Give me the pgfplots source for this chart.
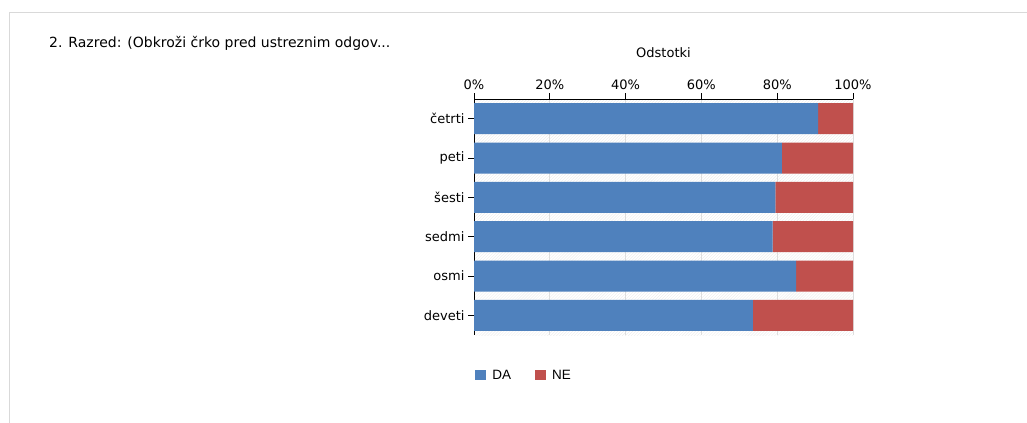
\documentclass[border=0pt]{standalone}
\usepackage{fontspec}
\setmainfont{DejaVu Sans}
\newfontfamily\libsans{Liberation Sans}
\usepackage{pgfplots}
\pgfplotsset{compat=1.18}
\usetikzlibrary{patterns}
\definecolor{da}{HTML}{4F81BD}
\definecolor{ne}{HTML}{C0504D}
\definecolor{frm}{HTML}{D9D9D9}
\begin{document}
\begin{tikzpicture}
\path[use as bounding box] (0bp,0bp) rectangle (1027bp,-423bp);
\draw[frm, line width=1.5bp] (9.5bp,-423bp) -- (9.5bp,-12.7bp) -- (1027bp,-12.7bp);
\node[anchor=west, inner sep=0pt, font=\fontsize{14bp}{16bp}\selectfont] at (49bp,-43bp) {2. Razred: (Obkroži črko pred ustreznim odgov...};
\begin{axis}[
 at={(474bp,-99bp)}, anchor=north west,
 scale only axis, width=379bp, height=236bp,
 xbar stacked, bar width=31bp,
 xmin=0, xmax=100, ymin=-0.5, ymax=5.5, y dir=reverse,
 axis x line=top, axis y line=left,
 axis line style={-, black, line width=0.8bp},
 xtick={0,20,40,60,80,100}, xticklabels={0\%,20\%,40\%,60\%,80\%,100\%},
 ytick={0,1,2,3,4,5}, yticklabels={četrti,peti,šesti,sedmi,osmi,deveti},
 tick align=outside, major tick length=6bp,
 tick style={black, line width=0.8bp},
 xmajorgrids, grid style={black!13, line width=0.8bp},
 axis background/.style={pattern=north east lines, pattern color=black!7},
 ticklabel style={font=\fontsize{13bp}{15bp}\selectfont},
 xlabel={Odstotki},
 xlabel style={at={(axis description cs:0.5,1)}, anchor=center, yshift=46bp, font=\fontsize{13bp}{15bp}\selectfont},
 legend columns=2,
 legend style={at={(axis description cs:0.003,-0.17)}, anchor=west, draw=none, fill=none, inner sep=0pt,
   font=\libsans\fontsize{13.5bp}{15bp}\selectfont,
   /tikz/every even column/.append style={column sep=22bp}},
]
\addplot[fill=da, draw=none, legend image code/.code={\fill[da] (0bp,-5bp) rectangle (11bp,5bp); \path (15bp,0bp);}] coordinates {
 (90.8,0) (81.2,1) (79.5,2) (78.8,3) (85.0,4) (73.6,5)};
\addplot[fill=ne, draw=none, legend image code/.code={\fill[ne] (0bp,-5bp) rectangle (11bp,5bp); \path (15bp,0bp);}] coordinates {
 (9.2,0) (18.8,1) (20.5,2) (21.2,3) (15.0,4) (26.4,5)};
\legend{DA,NE}
\end{axis}
\end{tikzpicture}
\end{document}
